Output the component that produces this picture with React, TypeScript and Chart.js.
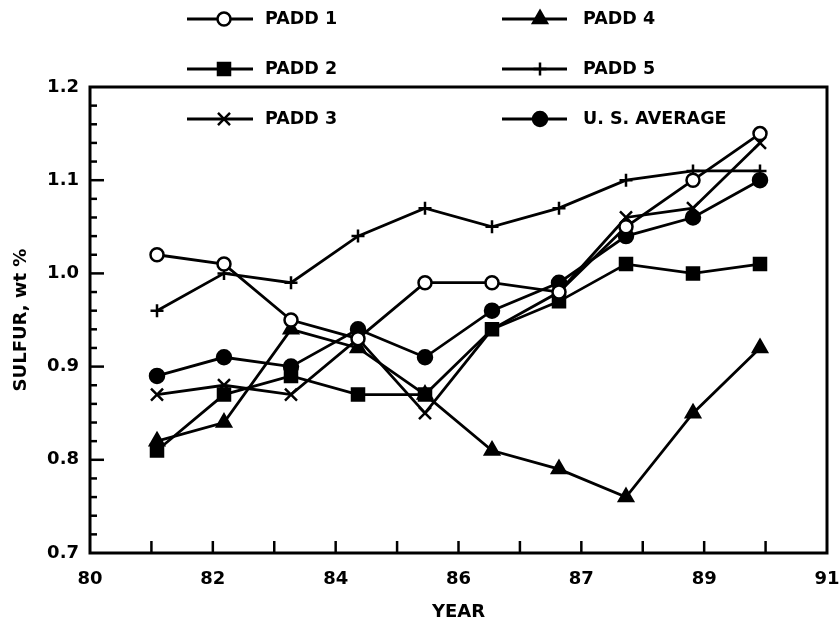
import React, { useEffect, useRef } from 'react';
import { Chart, registerables } from 'chart.js';
import { drawPoint } from 'chart.js/helpers';

Chart.register(...registerables);

// ---- data ----
const years = [81, 82, 83, 84, 85, 86, 87, 88, 89, 90];
const padd1 = [1.02, 1.01, 0.95, 0.93, 0.99, 0.99, 0.98, 1.05, 1.10, 1.15];
const padd2 = [0.81, 0.87, 0.89, 0.87, 0.87, 0.94, 0.97, 1.01, 1.00, 1.01];
const padd3 = [0.87, 0.88, 0.87, 0.93, 0.85, 0.94, 0.98, 1.06, 1.07, 1.14];
const padd4 = [0.82, 0.84, 0.94, 0.92, 0.87, 0.81, 0.79, 0.76, 0.85, 0.92];
const padd5 = [0.96, 1.00, 0.99, 1.04, 1.07, 1.05, 1.07, 1.10, 1.11, 1.11];
const usAverage = [0.89, 0.91, 0.90, 0.94, 0.91, 0.96, 0.99, 1.04, 1.06, 1.10];

const seriesNames = ['PADD 1', 'PADD 2', 'PADD 3', 'PADD 4', 'PADD 5', 'U. S. AVERAGE'];
const xTickLabels = ['80', '82', '84', '86', '87', '89', '91'];
const X_MIN = 80;
const X_MAX = 91;
const X_TICK_INTERVALS = 12;
const Y_MIN = 0.7;
const Y_MAX = 1.2;
const Y_MINOR_STEP = 0.02;

const FONT = "'DejaVu Sans', 'Liberation Sans', Arial, sans-serif";

const toPoints = (vals: number[]) => vals.map((v, i) => ({ x: years[i], y: v }));

// legend slots: [lineStart, markerX, lineEnd, textX, y]
const legendSlots = [
  [187, 224, 253, 265, 19],
  [187, 224, 253, 265, 69],
  [187, 224, 253, 265, 119],
  [502, 540, 567, 583, 19],
  [502, 540, 567, 583, 69],
  [502, 540, 567, 583, 119],
];

const framePlugin = {
  id: 'framePlugin',
  afterDatasetsDraw(chart: any) {
    const { ctx, chartArea, scales } = chart;
    const { left, top, right, bottom } = chartArea;
    const x = scales.x;
    const y = scales.y;
    ctx.save();
    ctx.strokeStyle = '#000';
    ctx.lineWidth = 3;
    ctx.strokeRect(left, top, right - left, bottom - top);
    ctx.lineWidth = 2.5;
    const nMinor = Math.round((Y_MAX - Y_MIN) / Y_MINOR_STEP);
    for (let i = 1; i < nMinor; i++) {
      const py = y.getPixelForValue(Y_MIN + i * Y_MINOR_STEP);
      const len = i % 5 === 0 ? 14 : 7;
      ctx.beginPath();
      ctx.moveTo(left, py);
      ctx.lineTo(left + len, py);
      ctx.stroke();
    }
    x.ticks.forEach((t: any, i: number) => {
      if (i === 0 || i === x.ticks.length - 1) return;
      const px = x.getPixelForValue(t.value);
      ctx.beginPath();
      ctx.moveTo(px, bottom);
      ctx.lineTo(px, bottom - 12);
      ctx.stroke();
    });
    ctx.restore();
  },
};

const legendPlugin = {
  id: 'customLegend',
  afterDraw(chart: any) {
    const { ctx } = chart;
    ctx.save();
    chart.data.datasets.forEach((ds: any, i: number) => {
      const [x1, mx, x2, tx, yy] = legendSlots[i];
      ctx.strokeStyle = '#000';
      ctx.lineWidth = 2.8;
      ctx.beginPath();
      ctx.moveTo(x1, yy);
      ctx.lineTo(x2, yy);
      ctx.stroke();
      ctx.fillStyle = ds.pointBackgroundColor;
      ctx.strokeStyle = ds.pointBorderColor;
      ctx.lineWidth = ds.pointBorderWidth;
      drawPoint(ctx, { pointStyle: ds.pointStyle, radius: ds.pointRadius, rotation: 0, borderWidth: ds.pointBorderWidth }, mx, yy);
      ctx.fillStyle = '#000';
      ctx.font = `bold 17.5px ${FONT}`;
      ctx.textAlign = 'left';
      ctx.textBaseline = 'middle';
      ctx.fillText(ds.label, tx, yy);
    });
    ctx.restore();
  },
};

function makeDataset(label: string, vals: number[], style: string, radius: number, fill: string) {
  return {
    label,
    data: toPoints(vals),
    borderColor: '#000',
    borderWidth: 2.8,
    pointStyle: style,
    pointRadius: radius,
    pointHoverRadius: radius,
    pointBackgroundColor: fill,
    pointBorderColor: '#000',
    pointBorderWidth: 2.5,
    tension: 0,
    clip: false,
  };
}

export default function App() {
  const ref = useRef<HTMLCanvasElement>(null);
  useEffect(() => {
    if (!ref.current) return;
    const chart = new Chart(ref.current, {
      type: 'line',
      data: {
        datasets: [
          makeDataset(seriesNames[0], padd1, 'circle', 6.5, '#fff'),
          makeDataset(seriesNames[1], padd2, 'rect', 8.5, '#000'),
          makeDataset(seriesNames[2], padd3, 'crossRot', 8.5, '#000'),
          makeDataset(seriesNames[3], padd4, 'triangle', 8, '#000'),
          makeDataset(seriesNames[4], padd5, 'cross', 6.5, '#000'),
          makeDataset(seriesNames[5], usAverage, 'circle', 7, '#000'),
        ] as any,
      },
      options: {
        responsive: false,
        animation: false,
        events: [],
        layout: { padding: { top: 87, right: 13, left: 0, bottom: 0 } },
        plugins: { legend: { display: false }, tooltip: { enabled: false } },
        scales: {
          x: {
            type: 'linear',
            min: X_MIN,
            max: X_MAX,
            grid: { display: false, drawTicks: false },
            border: { display: false },
            afterBuildTicks: (scale: any) => {
              const ticks = [];
              for (let k = 0; k <= X_TICK_INTERVALS; k++) {
                ticks.push({ value: X_MIN + (k * (X_MAX - X_MIN)) / X_TICK_INTERVALS });
              }
              scale.ticks = ticks;
            },
            afterFit: (scale: any) => {
              scale.height = 71;
              scale.paddingLeft = 0;
              scale.paddingRight = 0;
            },
            ticks: {
              autoSkip: false,
              maxRotation: 0,
              minRotation: 0,
              padding: 16,
              color: '#000',
              font: { family: FONT, size: 18, weight: 'bold' },
              callback: (_v: any, idx: number) => (idx % 2 === 0 ? xTickLabels[idx / 2] : ''),
            },
            title: {
              display: true,
              text: 'YEAR',
              color: '#000',
              font: { family: FONT, size: 18, weight: 'bold' },
              padding: { top: 0, bottom: 1 },
            },
          },
          y: {
            type: 'linear',
            min: Y_MIN,
            max: Y_MAX,
            grid: { display: false, drawTicks: false },
            border: { display: false },
            afterFit: (scale: any) => {
              scale.width = 90;
              scale.paddingTop = 0;
              scale.paddingBottom = 0;
            },
            ticks: {
              stepSize: 0.1,
              padding: 11,
              color: '#000',
              font: { family: FONT, size: 18, weight: 'bold' },
              callback: (v: any) => Number(v).toFixed(1),
            },
            title: {
              display: true,
              text: 'SULFUR, wt %',
              color: '#000',
              font: { family: FONT, size: 18, weight: 'bold' },
              padding: { top: 11, bottom: 0 },
            },
          },
        },
      } as any,
      plugins: [framePlugin, legendPlugin],
    });
    return () => chart.destroy();
  }, []);

  return (
    <div style={{ position: 'absolute', left: 0, top: 0, width: 840, height: 624, background: '#fff' }}>
      <canvas ref={ref} width={840} height={624} style={{ display: 'block' }} />
    </div>
  );
}
